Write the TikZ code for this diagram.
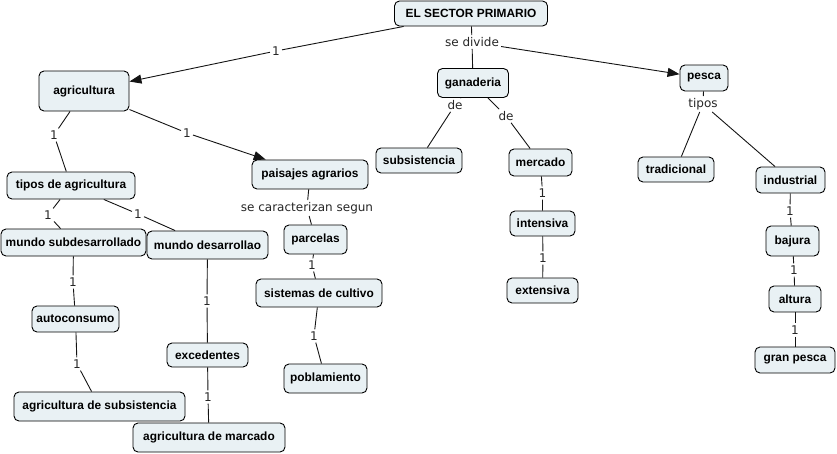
\documentclass[tikz,border=0pt]{standalone}
\usepackage{fontspec}
\setmainfont{Liberation Sans}
\newfontfamily\lblfamily{DejaVu Sans}
\usetikzlibrary{arrows.meta}
\definecolor{cfill}{RGB}{233,241,244}
\definecolor{lnk}{RGB}{20,20,20}
\tikzset{
  concept/.style={draw=black, line width=0.9pt, rounded corners=5pt, fill=cfill,
    font=\fontsize{11.9}{13}\selectfont\bfseries, inner sep=0pt, align=center},
  lbl/.style={font=\lblfamily\fontsize{12}{13}\selectfont, inner sep=2pt, text=black!85},
  conn/.style={draw=lnk, line width=0.9pt},
  arr/.style={conn, -{Triangle[length=12pt,width=9pt]}}
}
\begin{document}
\begin{tikzpicture}[x=1pt,y=-1pt]
\useasboundingbox (0,0) rectangle (837,453);
% concepts
\node[concept, minimum width=153pt, minimum height=25pt] (root) at (471,13.5) {EL SECTOR PRIMARIO};
\node[concept, minimum width=90pt, minimum height=40pt] (agri) at (84,91) {agricultura};
\node[concept, minimum width=71pt, minimum height=29pt] (gan) at (473,83) {ganaderia};
\node[concept, minimum width=48pt, minimum height=26pt] (pesca) at (704,78) {pesca};
\node[concept, minimum width=86pt, minimum height=25pt] (subs) at (419,160.5) {subsistencia};
\node[concept, minimum width=63pt, minimum height=27pt] (merc) at (540.5,162.5) {mercado};
\node[concept, minimum width=76pt, minimum height=25pt] (trad) at (676,169.5) {tradicional};
\node[concept, minimum width=69pt, minimum height=26pt] (indus) at (790.5,180) {industrial};
\node[concept, minimum width=116pt, minimum height=29pt] (pais) at (310,174.5) {paisajes agrarios};
\node[concept, minimum width=128pt, minimum height=27pt] (tipos) at (71,185.5) {tipos de agricultura};
\node[concept, minimum width=145pt, minimum height=27pt] (msub) at (73.5,242.5) {mundo subdesarrollado};
\node[concept, minimum width=121pt, minimum height=28pt] (mdes) at (207.5,245) {mundo desarrollao};
\node[concept, minimum width=63pt, minimum height=29pt] (parc) at (315.5,239.5) {parcelas};
\node[concept, minimum width=126pt, minimum height=28pt] (sist) at (319,293) {sistemas de cultivo};
\node[concept, minimum width=87pt, minimum height=26pt] (auto) at (75.5,319) {autoconsumo};
\node[concept, minimum width=81pt, minimum height=24pt] (exce) at (207.5,355) {excedentes};
\node[concept, minimum width=83pt, minimum height=29pt] (pobl) at (325.5,378.5) {poblamiento};
\node[concept, minimum width=171pt, minimum height=29pt] (agsub) at (99.5,406.5) {agricultura de subsistencia};
\node[concept, minimum width=152pt, minimum height=29pt] (agmar) at (209,437.5) {agricultura de marcado};
\node[concept, minimum width=65pt, minimum height=25pt] (inte) at (542.5,223.5) {intensiva};
\node[concept, minimum width=71pt, minimum height=25pt] (exte) at (542.5,290.5) {extensiva};
\node[concept, minimum width=53pt, minimum height=30pt] (baju) at (792.5,241) {bajura};
\node[concept, minimum width=52pt, minimum height=26pt] (altu) at (795,299) {altura};
\node[concept, minimum width=80pt, minimum height=26pt] (gran) at (795,360) {gran pesca};
% link labels
\node[lbl] (l1) at (276,51) {1};
\node[lbl] (ldiv) at (472,42) {se divide};
\node[lbl] (l2) at (54,135) {1};
\node[lbl] (l3) at (187,133) {1};
\node[lbl] (lde1) at (455,105) {de};
\node[lbl] (lde2) at (506,116) {de};
\node[lbl] (ltip) at (703,104) {tipos};
\node[lbl] (lcar) at (307,208) {se caracterizan segun};
\node[lbl] (l4) at (48,215) {1};
\node[lbl] (l5) at (138,214) {1};
\node[lbl] (l6) at (73,282) {1};
\node[lbl] (l7) at (77,364) {1};
\node[lbl] (l8) at (207,301) {1};
\node[lbl] (l9) at (208,397) {1};
\node[lbl] (l10) at (312,265) {1};
\node[lbl] (l11) at (314,336) {1};
\node[lbl] (l12) at (542.5,193) {1};
\node[lbl] (l13) at (543,258) {1};
\node[lbl] (l14) at (790,211) {1};
\node[lbl] (l15) at (794,270) {1};
\node[lbl] (l16) at (795,330) {1};
% connectors
\draw[conn] (root) -- (l1);
\draw[arr] (l1) -- (agri);
\draw[conn] (root) -- (ldiv);
\draw[conn] (ldiv) -- (gan);
\draw[arr] (ldiv) -- (pesca);
\draw[conn] (agri) -- (l2) -- (tipos);
\draw[conn] (agri) -- (l3);
\draw[arr] (l3) -- (pais);
\draw[conn] (gan) -- (lde1) -- (subs);
\draw[conn] (gan) -- (lde2) -- (merc);
\draw[conn] (merc) -- (l12) -- (inte);
\draw[conn] (inte) -- (l13) -- (exte);
\draw[conn] (pesca) -- (ltip) -- (trad);
\draw[conn] (ltip) -- (indus);
\draw[conn] (indus) -- (l14) -- (baju);
\draw[conn] (baju) -- (l15) -- (altu);
\draw[conn] (altu) -- (l16) -- (gran);
\draw[conn] (pais) -- (lcar) -- (parc);
\draw[conn] (parc) -- (l10) -- (sist);
\draw[conn] (sist) -- (l11) -- (pobl);
\draw[conn] (tipos) -- (l4) -- (msub);
\draw[conn] (tipos) -- (l5) -- (mdes);
\draw[conn] (msub) -- (l6) -- (auto);
\draw[conn] (auto) -- (l7) -- (agsub);
\draw[conn] (mdes) -- (l8) -- (exce);
\draw[conn] (exce) -- (l9) -- (agmar);
\end{tikzpicture}
\end{document}
